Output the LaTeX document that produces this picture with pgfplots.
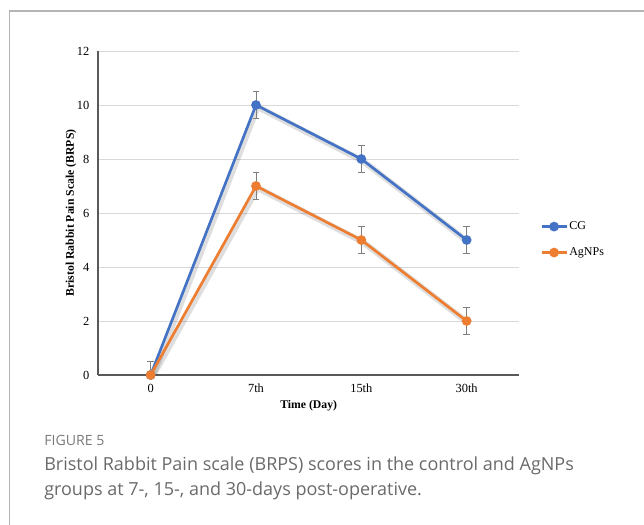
\documentclass[border=0pt]{standalone}
\usepackage{fontspec}
\setmainfont{Liberation Serif}
\newfontfamily\capfont{Open Sans}
\usepackage{pgfplots}
\usepackage{pgfplotstable}
\pgfplotsset{compat=1.18}
\definecolor{cgblue}{HTML}{4472C4}
\definecolor{agorange}{HTML}{ED7D31}
\definecolor{errgray}{HTML}{7F7F7F}
\definecolor{gridgray}{HTML}{D9D9D9}
\definecolor{axgray}{HTML}{595959}
\definecolor{framegray}{HTML}{B4B4B4}
\definecolor{captext}{HTML}{6A6A6A}
\definecolor{figgray}{HTML}{7A7A7A}

\pgfplotstableread{
x cg cgp cgm ag agp agm
0 0 0.5 0 0 0 0
1 10 0.5 0.5 7 0.5 0.5
2 8 0.5 0.5 5 0.5 0.5
3 5 0.5 0.5 2 0.5 0.5
}\brps

\begin{document}
\begin{tikzpicture}
\path[use as bounding box] (0,0) rectangle (483pt,-393.75pt);
\draw[framegray, line width=1.2pt] (7pt,-393.75pt) -- (7pt,-8.25pt) -- (483pt,-8.25pt);
\begin{axis}[
  at={(73.5pt,-281.25pt)}, anchor=south west,
  scale only axis, width=316pt, height=243pt,
  xmin=-0.5, xmax=3.5, ymin=0, ymax=12,
  xtick={0,1,2,3}, xticklabels={0,7th,15th,30th},
  ytick={0,2,...,12},
  axis x line*=bottom, axis y line*=left,
  axis line style={axgray, line width=0.8pt},
  major tick length=0pt,
  ymajorgrids, grid style={gridgray, line width=0.6pt},
  tick label style={font=\fontsize{9.3}{10}\selectfont, text=black},
  /pgf/number format/assume math mode=true,
  yticklabel style={xshift=-3pt},
  xticklabel style={yshift=-3.5pt},
  xlabel={Time (Day)},
  ylabel={Bristol Rabbit Pain Scale (BRPS)},
  every axis x label/.style={at={(axis description cs:0.5,0)}, anchor=center, yshift=-23pt, font=\bfseries\fontsize{8.8}{10}\selectfont},
  every axis y label/.style={at={(axis description cs:-0.064,0.5)}, rotate=90, anchor=center, font=\bfseries\fontsize{8.8}{10}\selectfont},
  legend style={at={(axis description cs:1.049,0.418)}, anchor=west, draw=none, fill=none,
    font=\fontsize{9}{10}\selectfont, row sep=8pt, inner sep=0pt,
    nodes={inner xsep=1pt}},
  legend cell align=left,
  legend image code/.code={\draw[#1,mark repeat=2,mark phase=2] plot coordinates {(0cm,0cm) (0.33cm,0cm) (0.66cm,0cm)};},
  error bars/error bar style={errgray, line width=0.7pt},
  error bars/error mark options={rotate=90, mark size=2.4pt, errgray, line width=0.7pt},
]
% shadows
\addplot[black, opacity=0.13, line width=4.5pt, forget plot, xshift=1.2pt, yshift=-1.5pt] table[x=x, y=cg] {\brps};
\addplot[black, opacity=0.13, line width=4.5pt, forget plot, xshift=1.2pt, yshift=-1.5pt] table[x=x, y=ag] {\brps};
% series
\addplot[cgblue, line width=2pt, mark=*, mark size=2.6pt,
  error bars/.cd, y dir=both, y explicit]
  table[x=x, y=cg, y error plus=cgp, y error minus=cgm] {\brps};
\addlegendentry{CG}
\addplot[agorange, line width=2pt, mark=*, mark size=2.6pt,
  error bars/.cd, y dir=both, y explicit]
  table[x=x, y=ag, y error plus=agp, y error minus=agm] {\brps};
\addlegendentry{AgNPs}
\end{axis}
\node[anchor=base west, text=figgray, inner sep=0pt, font=\capfont\fontsize{10.6}{12}\selectfont] at (33pt,-333.75pt) {FIGURE 5};
\node[anchor=base west, text=captext, inner sep=0pt, font=\capfont\fontsize{13.5}{16}\selectfont] at (33pt,-352.5pt) {Bristol Rabbit Pain scale (BRPS) scores in the control and AgNPs};
\node[anchor=base west, text=captext, inner sep=0pt, font=\capfont\fontsize{13.5}{16}\selectfont] at (33pt,-371.25pt) {groups at 7-, 15-, and 30-days post-operative.};
\end{tikzpicture}
\end{document}
